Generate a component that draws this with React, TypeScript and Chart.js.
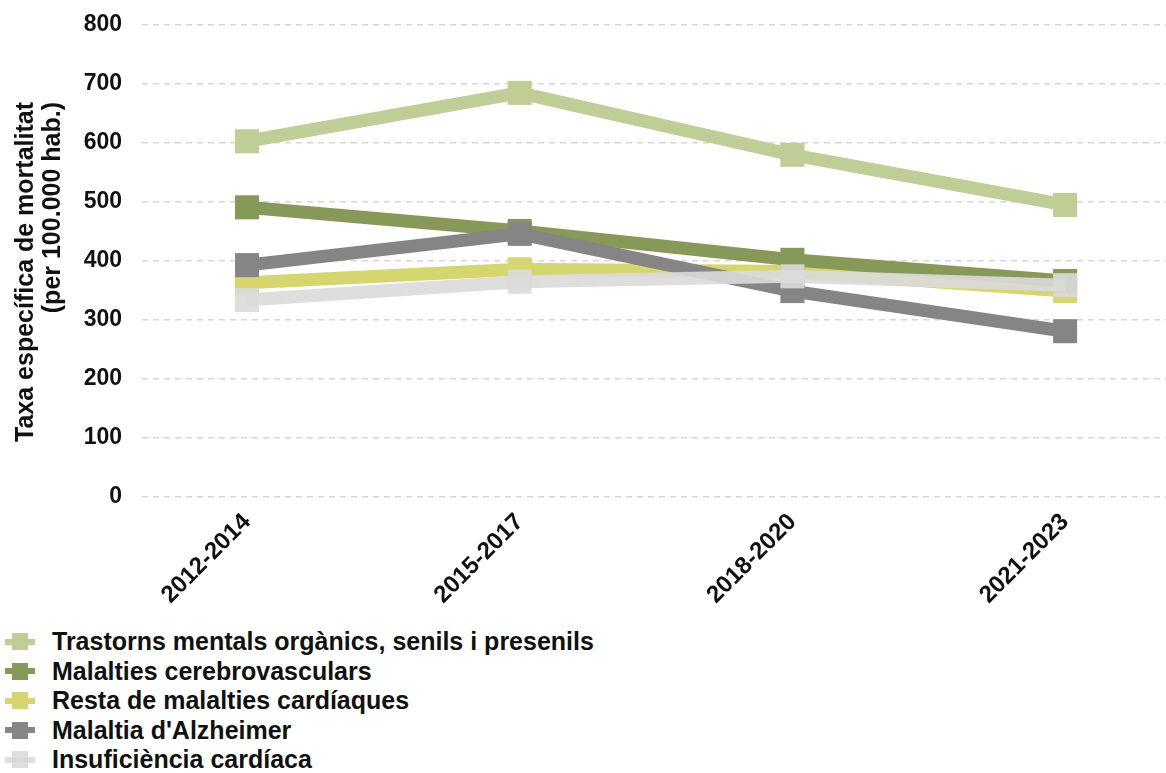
import React, { useEffect, useRef } from 'react';
import { Chart, registerables } from 'chart.js';

Chart.register(...registerables);

// ---- data ----
const categories = ['2012-2014', '2015-2017', '2018-2020', '2021-2023'];
const seriesNames = [
  'Trastorns mentals orgànics, senils i presenils',
  'Malalties cerebrovasculars',
  'Resta de malalties cardíaques',
  "Malaltia d'Alzheimer",
  'Insuficiència cardíaca',
];
const trastorns = [603, 685, 580, 495];
const cerebrovasculars = [491, 451, 402, 366];
const restaCardiaques = [363, 386, 382, 349];
const alzheimer = [393, 446, 349, 281];
const insuficiencia = [334, 365, 374, 359];
const yTickValues = [0, 100, 200, 300, 400, 500, 600, 700, 800];
const yTitle = ['Taxa específica de mortalitat', '(per 100.000 hab.)'];

const seriesValues = [trastorns, cerebrovasculars, restaCardiaques, alzheimer, insuficiencia];
const seriesColors = [
  'rgb(190,206,150)',
  'rgb(135,153,88)',
  'rgb(214,214,112)',
  'rgb(133,133,133)',
  'rgba(218,218,218,0.9)',
];
// drawing order: later series on top
const drawOrder = [5, 3, 4, 2, 1];

const FONT = "'Liberation Sans', Arial, sans-serif";

const yTitlePlugin = {
  id: 'yTitleEndAligned',
  afterDraw(chart: any) {
    const ctx = chart.ctx as CanvasRenderingContext2D;
    ctx.save();
    ctx.fillStyle = '#111';
    ctx.font = `bold 25px ${FONT}`;
    ctx.textAlign = 'right';
    ctx.textBaseline = 'alphabetic';
    const baselines = [33, 60];
    yTitle.forEach((line, i) => {
      ctx.save();
      ctx.translate(baselines[i], 102);
      ctx.rotate(-Math.PI / 2);
      ctx.fillText(line, 0, 0);
      ctx.restore();
    });
    ctx.restore();
  },
};

export default function App() {
  const canvasRef = useRef<HTMLCanvasElement | null>(null);

  useEffect(() => {
    const canvas = canvasRef.current;
    if (!canvas) return;
    const datasets = seriesNames.map((name, si) => ({
      label: name,
      data: seriesValues[si].map((v, i) => ({ x: i, y: v })),
      borderColor: seriesColors[si],
      backgroundColor: seriesColors[si],
      pointBackgroundColor: seriesColors[si],
      pointBorderColor: seriesColors[si],
      borderWidth: 13,
      pointStyle: 'rect' as const,
      pointRadius: 17,
      pointHoverRadius: 17,
      pointBorderWidth: 0,
      tension: 0,
      clip: false as const,
      order: drawOrder[si],
    }));

    const chart = new Chart(canvas, {
      type: 'line',
      data: { datasets },
      plugins: [yTitlePlugin],
      options: {
        responsive: false,
        animation: false,
        events: [],
        layout: { autoPadding: false, padding: { top: 25, right: 0, left: 0, bottom: 0 } },
        plugins: {
          legend: { display: false },
          tooltip: { enabled: false },
        },
        scales: {
          x: {
            type: 'linear',
            min: -0.385,
            max: 3.37,
            afterBuildTicks: (scale: any) => {
              scale.ticks = categories.map((_, i) => ({ value: i }));
            },
            afterFit: (scale: any) => {
              scale.height = 123;
            },
            grid: { display: false, drawTicks: false },
            border: { display: false },
            ticks: {
              autoSkip: false,
              maxRotation: 45,
              minRotation: 45,
              padding: 11,
              color: '#111',
              font: { family: FONT, size: 24, weight: 'bold' },
              callback: (v: any) => categories[v as number] ?? '',
            },
          },
          y: {
            min: 0,
            max: 800,
            afterBuildTicks: (scale: any) => {
              scale.ticks = yTickValues.map((v) => ({ value: v }));
            },
            afterFit: (scale: any) => {
              scale.width = 142;
            },
            grid: {
              color: '#d6d6d6',
              lineWidth: 1.5,
              drawTicks: true,
              tickLength: 20,
              tickColor: 'rgba(0,0,0,0)',
            },
            border: { display: false, dash: [6, 5] },
            ticks: {
              padding: 0,
              color: '#111',
              font: { family: FONT, size: 23, weight: 'bold' },
            },
            title: { display: false },
          },
        },
      },
    });
    return () => chart.destroy();
  }, []);

  return (
    <div style={{ position: 'absolute', left: 0, top: 0, width: 1166, height: 773, background: '#fff', fontFamily: FONT }}>
      <canvas ref={canvasRef} width={1166} height={620} style={{ display: 'block', width: 1166, height: 620 }} />
      <div style={{ position: 'absolute', left: 0, top: 627 }}>
        {seriesNames.map((name, si) => (
          <div key={name} style={{ display: 'flex', alignItems: 'center', height: 29.5 }}>
            <div style={{ position: 'relative', width: 30, height: 17, marginLeft: 5, marginRight: 17 }}>
              <div style={{ position: 'absolute', left: 0, top: 5.5, width: 30, height: 6, background: seriesColors[si] }} />
              <div style={{ position: 'absolute', left: 7, top: 0, width: 16, height: 17, background: seriesColors[si] }} />
            </div>
            <span style={{ fontSize: 25, fontWeight: 'bold', color: '#111', whiteSpace: 'nowrap', lineHeight: '29.5px' }}>{name}</span>
          </div>
        ))}
      </div>
    </div>
  );
}
